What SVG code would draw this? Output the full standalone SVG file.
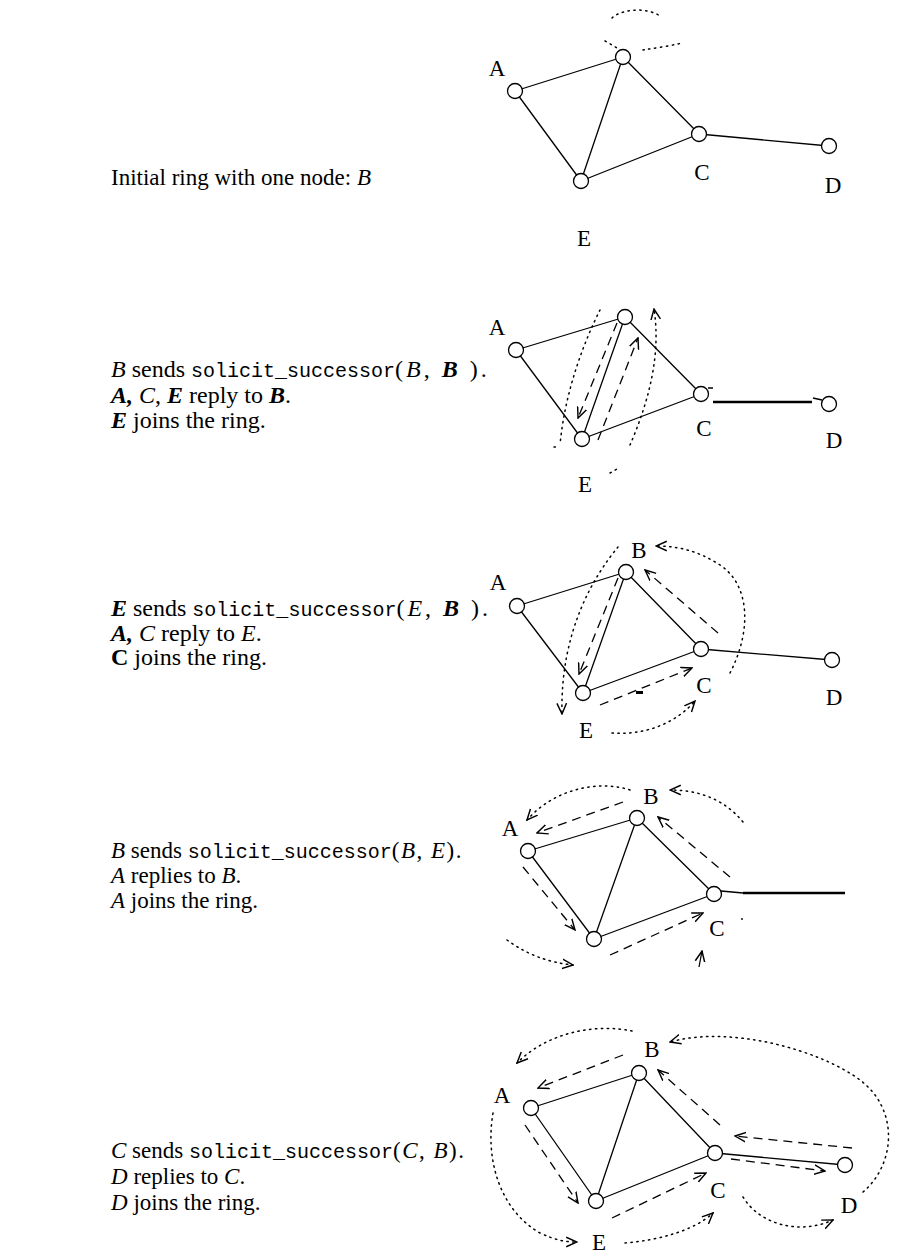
<svg xmlns="http://www.w3.org/2000/svg" width="898" height="1260" viewBox="0 0 898 1260">
<defs>
<style>
.txt{font-family:"Liberation Serif","Times New Roman",serif;font-size:23px;fill:#000}
.t2{font-size:24px}
.mono{font-family:"Liberation Mono","Courier New",monospace;font-size:20px}
.par{letter-spacing:1.5px}
.par2{letter-spacing:3px}
.i{font-style:italic}
.bi{font-style:italic;font-weight:bold}
.b{font-weight:bold}
.lbl{font-family:"Liberation Serif","Times New Roman",serif;font-size:23px;fill:#000;text-anchor:middle}
.edge{stroke:#000;stroke-width:1.3;fill:none}
.thick{stroke:#000;stroke-width:2.4;fill:none}
.dash{stroke:#000;stroke-width:1.3;fill:none;stroke-dasharray:9 6}
.dot{stroke:#000;stroke-width:1.5;fill:none;stroke-dasharray:1.4 4.5;stroke-linecap:round}
.node{fill:#fff;stroke:#000;stroke-width:1.3}
</style>
<marker id="ah" viewBox="0 0 10 10" refX="9" refY="5" markerWidth="12" markerHeight="12" markerUnits="userSpaceOnUse" orient="auto">
<path d="M0,1 L9,5 L0,9" fill="none" stroke="#000" stroke-width="1.2"/>
</marker>
</defs>
<rect width="898" height="1260" fill="#fff"/>

<!-- captions -->
<g id="caption1" class="txt">
<text x="111" y="185">Initial ring with one node: <tspan class="i">B</tspan></text>
</g>
<g id="caption2" class="txt t2">
<text x="111" y="377"><tspan class="i">B</tspan> sends <tspan class="mono">solicit_successor</tspan><tspan class="par2">(<tspan class="i">B</tspan>, <tspan class="bi">B</tspan> ).</tspan></text>
<text x="111" y="403"><tspan class="bi">A,</tspan> <tspan class="i">C</tspan>, <tspan class="bi">E</tspan> reply to <tspan class="bi">B</tspan>.</text>
<text x="111" y="428"><tspan class="bi">E</tspan> joins the ring.</text>
</g>
<g id="caption3" class="txt t2">
<text x="111" y="616"><tspan class="bi">E</tspan> sends <tspan class="mono">solicit_successor</tspan><tspan class="par2">(<tspan class="i">E</tspan>, <tspan class="bi">B</tspan> ).</tspan></text>
<text x="111" y="641"><tspan class="bi">A,</tspan> <tspan class="i">C</tspan> reply to <tspan class="i">E</tspan>.</text>
<text x="111" y="665"><tspan class="b">C</tspan> joins the ring.</text>
</g>
<g id="caption4" class="txt">
<text x="111" y="858"><tspan class="i">B</tspan> sends <tspan class="mono">solicit_successor</tspan><tspan class="par">(<tspan class="i">B</tspan>, <tspan class="i">E</tspan>).</tspan></text>
<text x="111" y="883"><tspan class="i">A</tspan> replies to <tspan class="i">B</tspan>.</text>
<text x="111" y="908"><tspan class="i">A</tspan> joins the ring.</text>
</g>
<g id="caption5" class="txt">
<text x="111" y="1158"><tspan class="i">C</tspan> sends <tspan class="mono">solicit_successor</tspan><tspan class="par">(<tspan class="i">C</tspan>, <tspan class="i">B</tspan>).</tspan></text>
<text x="111" y="1184"><tspan class="i">D</tspan> replies to <tspan class="i">C</tspan>.</text>
<text x="111" y="1210"><tspan class="i">D</tspan> joins the ring.</text>
</g>

<g id="connectors">
<!-- panel 1 -->
<path class="edge" d="M515,91 L623,57 M515,91 L581,181 M623,57 L581,181 M623,57 L699,134 M581,181 L699,134 M699,134 L829,146"/>
<path class="dot" d="M612,18 C620,10 645,6 660,16"/>
<path class="dot" d="M605,41 L617,48 M643,50 C655,48 670,46 682,43"/>
<!-- panel 2 -->
<path class="edge" d="M516,350 L625,317 M516,350 L582,439 M625,317 L582,439 M625,317 L701,394 M582,439 L701,394 M708,388 L713,388 M813,398 L822,400"/>
<path class="thick" d="M713,402 L812,402"/>
<path class="dash" marker-end="url(#ah)" d="M617,323 L578,418"/>
<path class="dash" marker-end="url(#ah)" d="M598,440 L638,338"/>
<path class="dot" d="M600,310 C585,340 565,390 560,445 M554,447 L558,447"/>
<path class="dot" marker-end="url(#ah)" d="M630,445 C645,410 662,360 654,309"/>
<path class="dot" d="M610,473 L617,469"/>
<!-- panel 3 -->
<path class="edge" d="M517,606 L626,572 M517,606 L583,693 M626,572 L583,693 M626,572 L701,649 M583,693 L701,649 M701,649 L832,660"/>
<path class="dash" marker-end="url(#ah)" d="M618,578 L579,674"/>
<path class="dash" marker-end="url(#ah)" d="M600,705 L692,668"/>
<rect x="636" y="691" width="7" height="3" fill="#000"/>
<path class="dash" marker-end="url(#ah)" d="M718,633 L645,570"/>
<path class="dot" marker-end="url(#ah)" d="M618,547 C595,575 560,630 562,714"/>
<path class="dot" marker-end="url(#ah)" d="M730,673 C752,630 750,585 720,565 C700,552 680,546 656,546"/>
<path class="dot" marker-end="url(#ah)" d="M612,733 C640,735 672,727 695,701"/>
<!-- panel 4 -->
<path class="edge" d="M528,851 L637,818 M528,851 L594,939 M637,818 L594,939 M637,818 L714,894 M594,939 L714,894 M721,891 L743,893"/>
<path class="thick" d="M743,893 L845,893"/>
<path class="dash" marker-end="url(#ah)" d="M623,802 L537,833"/>
<path class="dash" marker-end="url(#ah)" d="M523,867 L575,930"/>
<path class="dash" marker-end="url(#ah)" d="M610,955 L703,913"/>
<path class="dash" marker-end="url(#ah)" d="M730,877 L658,817"/>
<path class="dot" marker-end="url(#ah)" d="M630,790 C600,780 555,788 527,820"/>
<path class="dot" marker-end="url(#ah)" d="M743,822 C725,800 700,790 670,790"/>
<path class="dot" marker-end="url(#ah)" d="M507,940 C525,953 545,962 573,965"/>
<path class="edge" marker-end="url(#ah)" d="M699,967 L702,951"/>
<circle cx="742" cy="919" r="0.9" fill="#000"/>
<!-- panel 5 -->
<path class="edge" d="M531,1108 L639,1073 M531,1108 L596,1201 M639,1073 L596,1201 M639,1073 L715,1153 M596,1201 L715,1153 M715,1153 L845,1165"/>
<path class="dash" marker-end="url(#ah)" d="M623,1055 L538,1088"/>
<path class="dash" marker-end="url(#ah)" d="M525,1125 L578,1203"/>
<path class="dash" marker-end="url(#ah)" d="M612,1218 L706,1173"/>
<path class="dash" marker-end="url(#ah)" d="M720,1125 L658,1070"/>
<path class="dash" marker-end="url(#ah)" d="M852,1148 L735,1136"/>
<path class="dash" marker-end="url(#ah)" d="M731,1159 L825,1171"/>
<path class="dot" marker-end="url(#ah)" d="M632,1031 C600,1024 550,1030 517,1063"/>
<path class="dot" marker-end="url(#ah)" d="M863,1192 C895,1165 900,1110 860,1080 C820,1050 730,1025 670,1042"/>
<path class="dot" marker-end="url(#ah)" d="M493,1113 C485,1160 500,1210 540,1233 C555,1240 565,1242 577,1242"/>
<path class="dot" marker-end="url(#ah)" d="M625,1243 C660,1240 695,1230 713,1213"/>
<path class="dot" marker-end="url(#ah)" d="M743,1197 C760,1225 800,1235 833,1220"/>
</g>

<!-- panel 1 nodes -->
<g id="p1-A"><circle class="node" cx="515" cy="91" r="7.5"/><text class="lbl" x="497" y="76">A</text></g>
<g id="p1-B"><circle class="node" cx="623" cy="57" r="7.5"/></g>
<g id="p1-C"><circle class="node" cx="699" cy="134" r="7.5"/><text class="lbl" x="702" y="180">C</text></g>
<g id="p1-D"><circle class="node" cx="829" cy="146" r="7.5"/><text class="lbl" x="833" y="193">D</text></g>
<g id="p1-E"><circle class="node" cx="581" cy="181" r="7.5"/><text class="lbl" x="584" y="246">E</text></g>
<!-- panel 2 nodes -->
<g id="p2-A"><circle class="node" cx="516" cy="350" r="7.5"/><text class="lbl" x="497" y="335">A</text></g>
<g id="p2-B"><circle class="node" cx="625" cy="317" r="7.5"/></g>
<g id="p2-C"><circle class="node" cx="701" cy="394" r="7.5"/><text class="lbl" x="704" y="436">C</text></g>
<g id="p2-D"><circle class="node" cx="829" cy="404" r="7.5"/><text class="lbl" x="834" y="448">D</text></g>
<g id="p2-E"><circle class="node" cx="582" cy="439" r="7.5"/><text class="lbl" x="585" y="492">E</text></g>
<!-- panel 3 nodes -->
<g id="p3-A"><circle class="node" cx="517" cy="606" r="7.5"/><text class="lbl" x="498" y="590">A</text></g>
<g id="p3-B"><circle class="node" cx="626" cy="572" r="7.5"/><text class="lbl" x="639" y="558">B</text></g>
<g id="p3-C"><circle class="node" cx="701" cy="649" r="7.5"/><text class="lbl" x="704" y="693">C</text></g>
<g id="p3-D"><circle class="node" cx="832" cy="660" r="7.5"/><text class="lbl" x="834" y="705">D</text></g>
<g id="p3-E"><circle class="node" cx="583" cy="693" r="7.5"/><text class="lbl" x="586" y="738">E</text></g>
<!-- panel 4 nodes -->
<g id="p4-A"><circle class="node" cx="528" cy="851" r="7.5"/><text class="lbl" x="510" y="836">A</text></g>
<g id="p4-B"><circle class="node" cx="637" cy="818" r="7.5"/><text class="lbl" x="651" y="804">B</text></g>
<g id="p4-C"><circle class="node" cx="714" cy="894" r="7.5"/><text class="lbl" x="717" y="936">C</text></g>
<g id="p4-E"><circle class="node" cx="594" cy="939" r="7.5"/></g>
<!-- panel 5 nodes -->
<g id="p5-A"><circle class="node" cx="531" cy="1108" r="7.5"/><text class="lbl" x="502" y="1103">A</text></g>
<g id="p5-B"><circle class="node" cx="639" cy="1073" r="7.5"/><text class="lbl" x="652" y="1057">B</text></g>
<g id="p5-C"><circle class="node" cx="715" cy="1153" r="7.5"/><text class="lbl" x="718" y="1198">C</text></g>
<g id="p5-D"><circle class="node" cx="845" cy="1165" r="7.5"/><text class="lbl" x="849" y="1213">D</text></g>
<g id="p5-E"><circle class="node" cx="596" cy="1201" r="7.5"/><text class="lbl" x="599" y="1250">E</text></g>
</svg>
